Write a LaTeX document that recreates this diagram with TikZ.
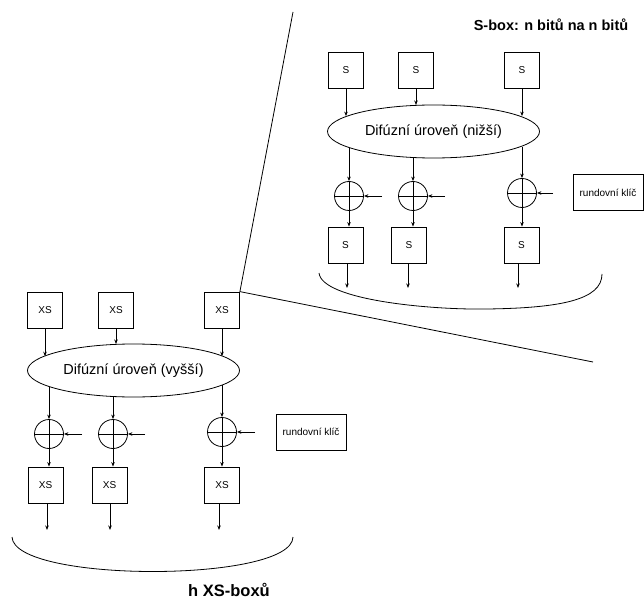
\documentclass[tikz,border=0pt]{standalone}
\usepackage{fontspec}
\setmainfont{Liberation Sans}
\usetikzlibrary{arrows.meta,shapes.geometric}

\tikzset{
  sbox/.style={draw, minimum width=35pt, minimum height=36pt, inner sep=0pt, font=\fontsize{10}{12}\selectfont},
  difuze/.style={draw, ellipse, minimum width=212pt, minimum height=53pt, inner sep=0pt, font=\fontsize{14.5}{17}\selectfont},
  xorc/.style={draw, circle, minimum size=29pt, inner sep=0pt,
    path picture={\draw (path picture bounding box.north) -- (path picture bounding box.south)
                        (path picture bounding box.west) -- (path picture bounding box.east);}},
  klic/.style={draw, minimum width=70pt, minimum height=36pt, inner sep=0pt, font=\fontsize{10}{12}\selectfont},
  nadpis/.style={font=\bfseries\fontsize{14.5}{17}\selectfont}
}

\begin{document}
\begin{tikzpicture}[x=1pt, y=-1pt, line width=0.8pt, >={Stealth[length=4.5pt,width=3.5pt]}]
            \useasboundingbox (0, 0) rectangle (644, 601);

            % S-boxy (nizsi uroven)
            \node[nadpis] (titulS) at (551, 25) { S-box: n bitů na n bitů };
            \node[sbox] (s1) at (346, 70) { S };
            \node[sbox] (s2) at (416, 70) { S };
            \node[sbox] (s3) at (522, 70) { S };
            \node[difuze] (difN) at (433.5, 131.5) { Difúzní úroveň (nižší) };
            \node[xorc] (xn1) at (349, 196) {};
            \node[xorc] (xn2) at (413, 196) {};
            \node[xorc] (xn3) at (522, 193) {};
            \node[klic] (klicN) at (608, 192.5) { rundovní klíč };
            \node[sbox] (so1) at (345.5, 245) { S };
            \node[sbox] (so2) at (409, 245) { S };
            \node[sbox] (so3) at (521.5, 245) { S };
            \coordinate (kn1) at (382, 196);
            \coordinate (kn2) at (445, 196);
            \coordinate (kn3) at (553, 193);
            \coordinate (on1) at (347, 288);
            \coordinate (on2) at (408, 288);
            \coordinate (on3) at (518, 288);

            \draw[->] (s1) -- (s1 |- difN.170);
            \draw[->] (s2) -- (s2 |- difN.124);
            \draw[->] (s3) -- (s3 |- difN.10);
            \draw[->] (xn1 |- difN.191) -- (xn1);
            \draw[->] (xn2 |- difN.232) -- (xn2);
            \draw[->] (xn3 |- difN.350) -- (xn3);
            \draw[->] (kn1) -- (xn1);
            \draw[->] (kn2) -- (xn2);
            \draw[->] (kn3) -- (xn3);
            \draw[->] (xn1) -- (xn1 |- so1.north);
            \draw[->] (xn2) -- (xn2 |- so2.north);
            \draw[->] (xn3) -- (xn3 |- so3.north);
            \draw[->] (so1.south -| on1) -- (on1);
            \draw[->] (so2.south -| on2) -- (on2);
            \draw[->] (so3.south -| on3) -- (on3);
            \draw (319, 273) .. controls (322, 300) and (430, 310) .. (487, 309)
                             .. controls (560, 308) and (602, 300) .. (602, 274);

            % XS-boxy (vyssi uroven)
            \node[sbox] (xs1) at (45, 310) { XS };
            \node[sbox] (xs2) at (116, 310) { XS };
            \node[sbox] (xs3) at (222, 310) { XS };
            \node[difuze] (difV) at (133.5, 370.5) { Difúzní úroveň (vyšší) };
            \node[xorc] (xv1) at (49, 434) {};
            \node[xorc] (xv2) at (113, 434) {};
            \node[xorc] (xv3) at (222, 432) {};
            \node[klic] (klicV) at (311, 432) { rundovní klíč };
            \node[sbox] (xo1) at (45.5, 485) { XS };
            \node[sbox] (xo2) at (109.5, 485) { XS };
            \node[sbox] (xo3) at (222, 485) { XS };
            \node[nadpis, font=\bfseries\fontsize{16.5}{19}\selectfont] (titulXS) at (229, 590) { h XS-boxů };
            \coordinate (kv1) at (82, 434);
            \coordinate (kv2) at (145, 434);
            \coordinate (kv3) at (255, 432);
            \coordinate (ov1) at (47, 530);
            \coordinate (ov2) at (110, 530);
            \coordinate (ov3) at (219, 530);

            \draw[->] (xs1) -- (xs1 |- difV.171);
            \draw[->] (xs2) -- (xs2 |- difV.124);
            \draw[->] (xs3) -- (xs3 |- difV.9);
            \draw[->] (xv1 |- difV.191) -- (xv1);
            \draw[->] (xv2 |- difV.232) -- (xv2);
            \draw[->] (xv3 |- difV.351) -- (xv3);
            \draw[->] (kv1) -- (xv1);
            \draw[->] (kv2) -- (xv2);
            \draw[->] (kv3) -- (xv3);
            \draw[->] (xv1) -- (xv1 |- xo1.north);
            \draw[->] (xv2) -- (xv2 |- xo2.north);
            \draw[->] (xv3) -- (xv3 |- xo3.north);
            \draw[->] (xo1.south -| ov1) -- (ov1);
            \draw[->] (xo2.south -| ov2) -- (ov2);
            \draw[->] (xo3.south -| ov3) -- (ov3);
            \draw (12, 537) .. controls (14, 583) and (292, 583) .. (293, 537);

            % zvetseni jednoho XS-boxu
            \coordinate (zoomA) at (293, 12);
            \coordinate (zoomB) at (593, 362);
            \draw (zoomA) -- (xs3.north east) -- (zoomB);

        \end{tikzpicture}
\end{document}
